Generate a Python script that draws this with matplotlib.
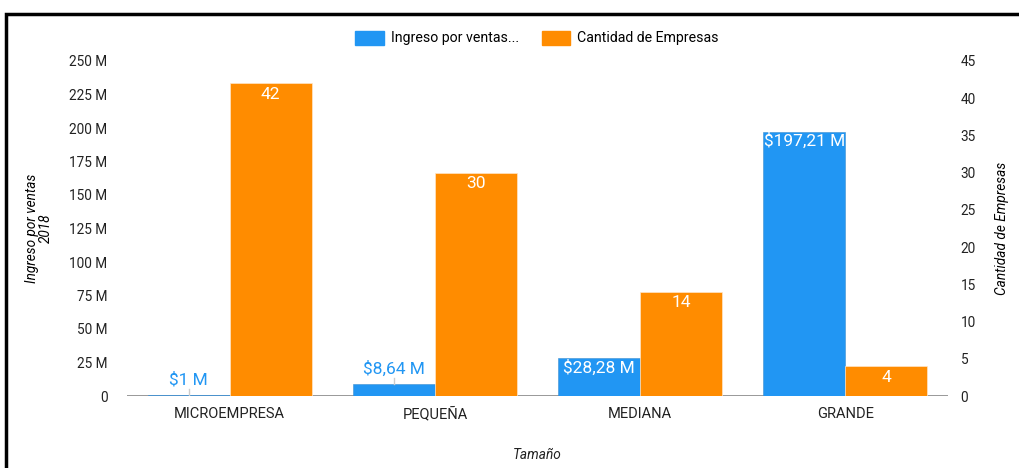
import matplotlib
matplotlib.use("Agg")
import matplotlib.pyplot as plt
from matplotlib.patches import Rectangle, Patch
import numpy as np

categories = ["MICROEMPRESA", "PEQUEÑA", "MEDIANA", "GRANDE"]
ingreso_m = [1.0, 8.64, 28.28, 197.21]
ingreso_labels = ["$1 M", "$8,64 M", "$28,28 M", "$197,21 M"]
empresas = [42, 30, 14, 4]
left_ticks = [0, 25, 50, 75, 100, 125, 150, 175, 200, 225, 250]
left_tick_labels = ["0", "25 M", "50 M", "75 M", "100 M", "125 M", "150 M", "175 M", "200 M", "225 M", "250 M"]
right_ticks = [0, 5, 10, 15, 20, 25, 30, 35, 40, 45]

BLUE = "#2196F3"
ORANGE = "#FF8C00"
plt.rcParams['font.family'] = ['Roboto', 'DejaVu Sans']

fig = plt.figure(figsize=(10.19, 4.68), dpi=100)
ax = fig.add_axes([127/1019, 1-396/468, (948-127)/1019, (396-61)/468])
ax2 = ax.twinx()

x = np.arange(len(categories))
w = 0.4
ax.axhline(0, color="#888888", lw=1.2, zorder=1, xmin=0, xmax=1)
ax.bar(x - w/2, ingreso_m, width=w, color=BLUE, edgecolor="#3f8fd0", linewidth=0.4, zorder=2)
ax2.bar(x + w/2, empresas, width=w, color=ORANGE, edgecolor="#ffe6c8", linewidth=0.5, zorder=2)

ax.set_xlim(-0.5, 3.5)
ax.set_ylim(0, 250)
ax2.set_ylim(0, 45)
ax.set_yticks(left_ticks)
ax.set_yticklabels(left_tick_labels)
ax2.set_yticks(right_ticks)
ax.set_xticks(x)
ax.set_xticklabels(categories)

for a in (ax, ax2):
    for s in a.spines.values():
        s.set_visible(False)
    a.tick_params(length=0, labelsize=9.8, colors="#222222")
ax.tick_params(axis='x', pad=8, labelsize=10.5)
ax.tick_params(axis='y', pad=14)
ax2.tick_params(axis='y', pad=9)

# blue labels
for i, (v, lab) in enumerate(zip(ingreso_m, ingreso_labels)):
    xc = x[i] - w/2
    if v < 20:
        ax.plot([xc, xc], [v, v + 4.5], color="#cccccc", lw=1, zorder=3)
        ax.text(xc, v + 5.5, lab, ha="center", va="bottom", color=BLUE, fontsize=12.5, zorder=4)
    else:
        ax.text(xc, v - 1.0, lab, ha="center", va="top", color="white", fontsize=12.5, zorder=4)

for i, v in enumerate(empresas):
    ax2.text(x[i] + w/2, v - 0.45, str(v), ha="center", va="top", color="white", fontsize=12.5, zorder=4)

ax.set_ylabel("Ingreso por ventas\n2018", fontsize=9.8, style="italic", labelpad=12, linespacing=0.95)
ax2.set_ylabel("Cantidad de Empresas", fontsize=9.8, style="italic", labelpad=14)
fig.text(537/1019, 1-455/468, "Tamaño", ha="center", va="center", fontsize=9.8, style="italic", color="#222222")

handles = [Patch(color=BLUE, label="Ingreso por ventas..."), Patch(color=ORANGE, label="Cantidad de Empresas")]
fig.legend(handles=handles, loc="center", bbox_to_anchor=(537/1019, 1-38/468), ncol=2, frameon=False,
           fontsize=10.2, handlelength=2.0, handleheight=1.15, columnspacing=1.6, handletextpad=0.5)

fig.patches.append(Rectangle((6/1019, -0.05), 1.2, 1 - 14/468 + 0.05, transform=fig.transFigure,
                             fill=False, edgecolor="black", linewidth=2.5))

fig.savefig("out.png", dpi=100)
